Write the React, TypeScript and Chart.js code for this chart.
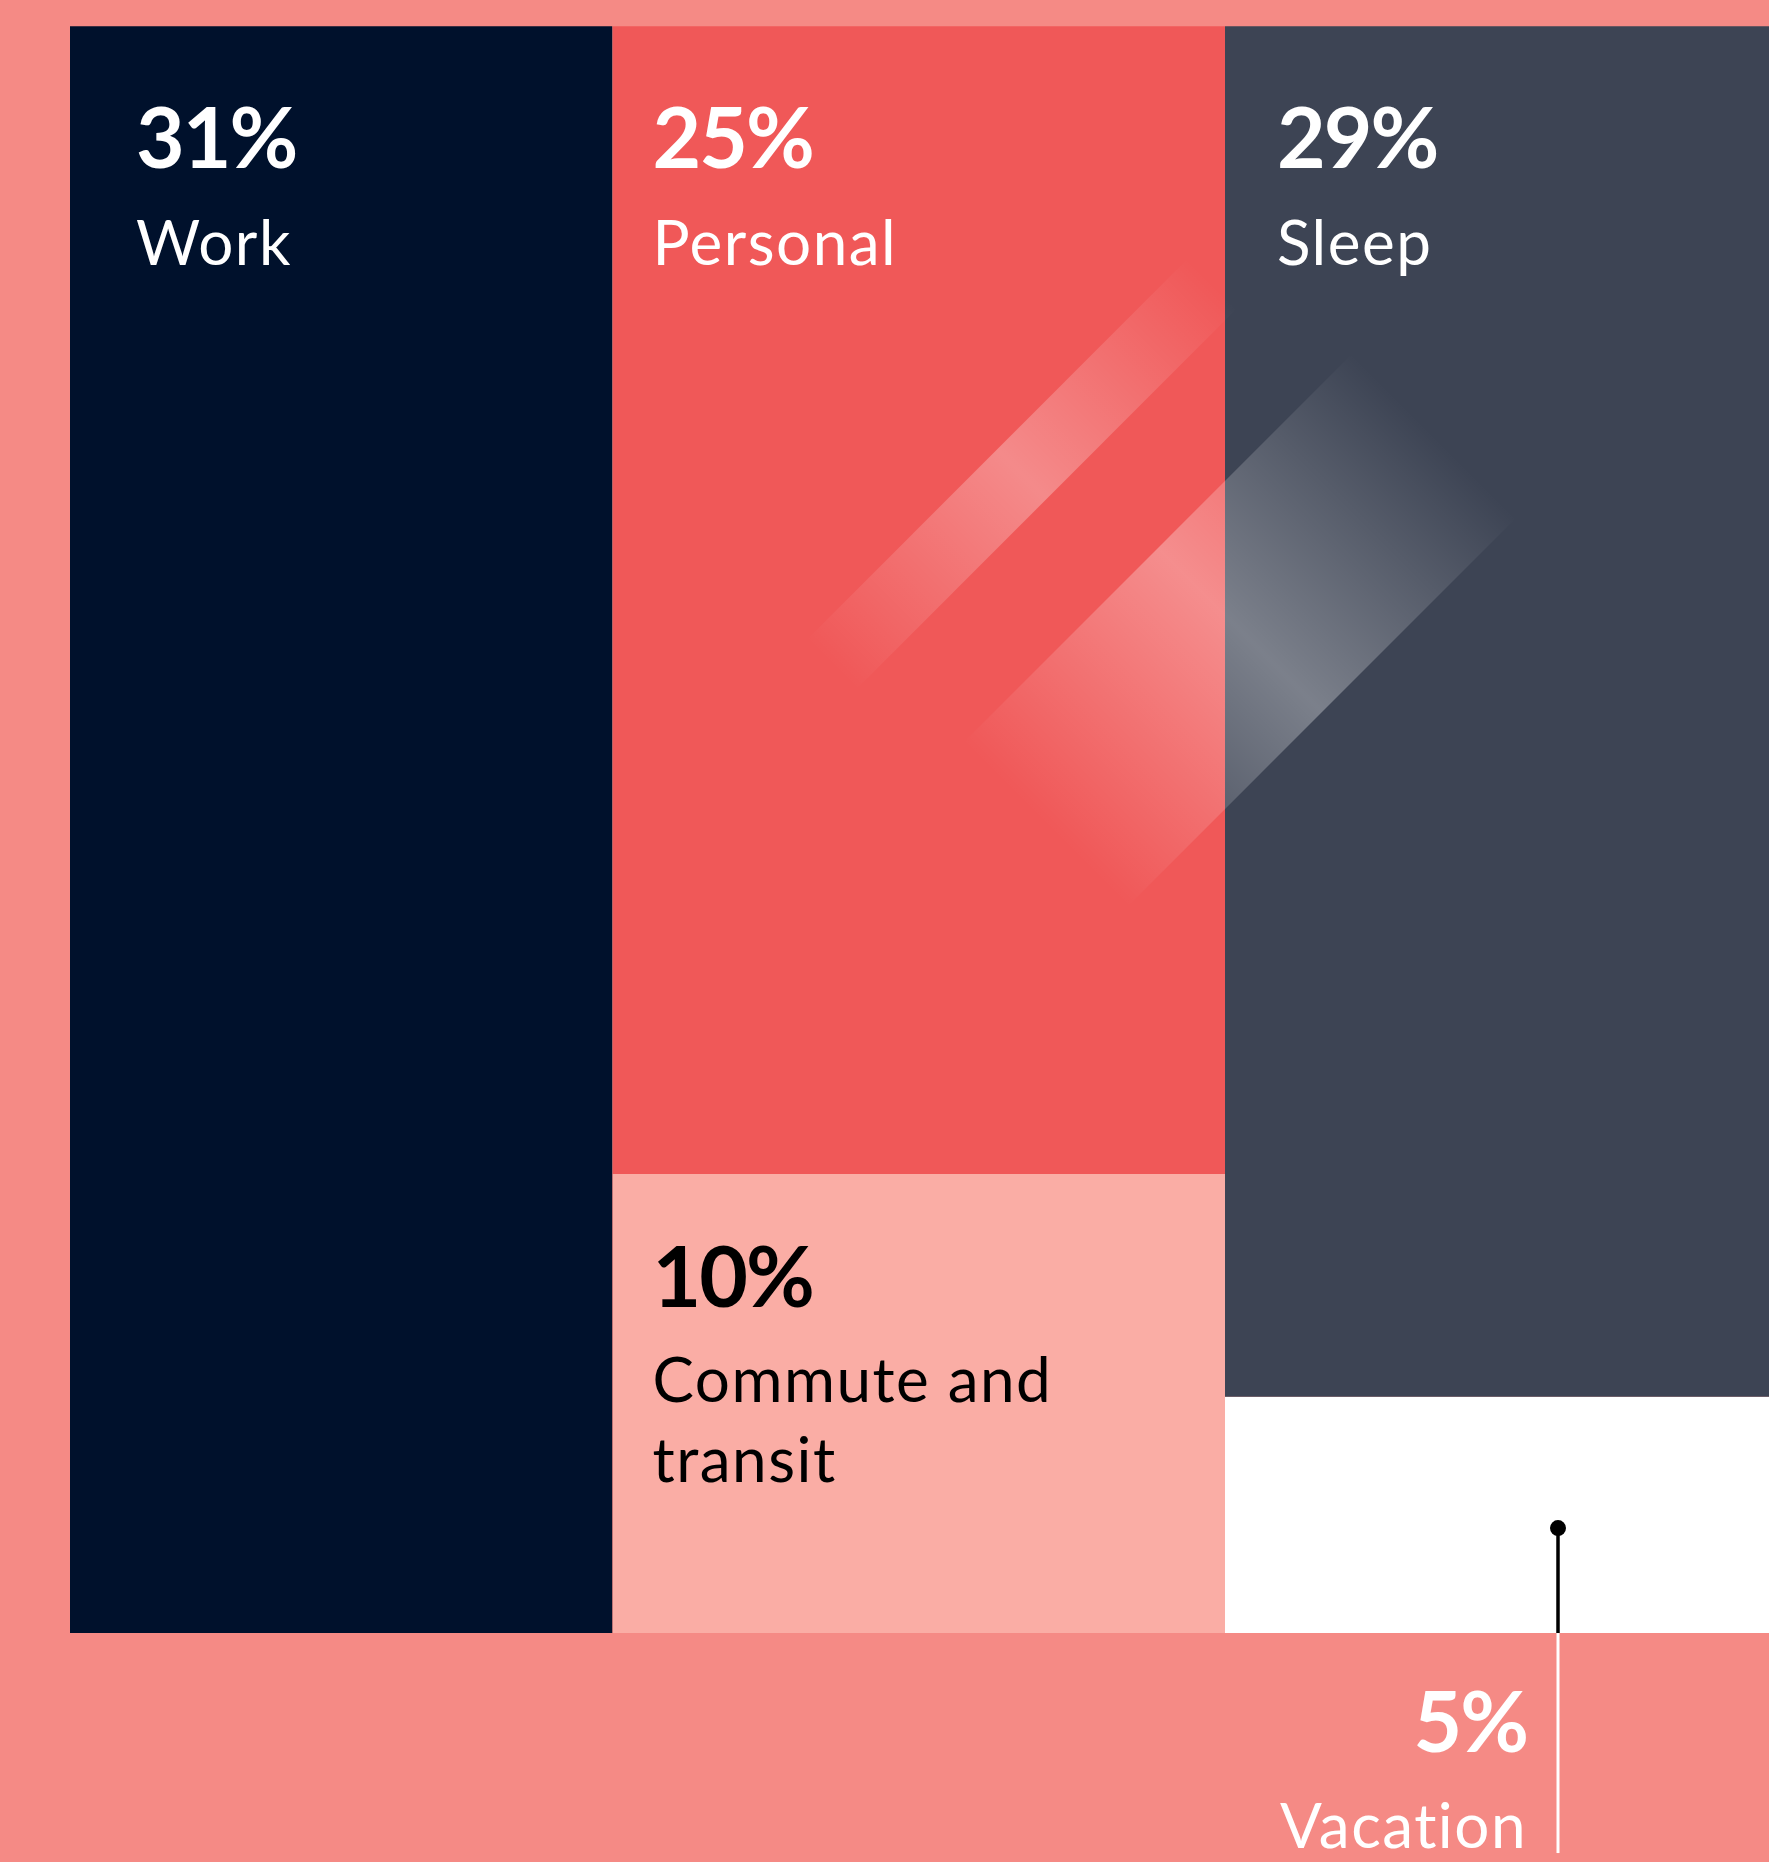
import React, { useEffect, useRef } from 'react';
import { Chart, registerables } from 'chart.js';

Chart.register(...registerables);

// ---- data ----
const categories = ['Work', 'Personal', 'Commute and transit', 'Sleep', 'Vacation'];
const shares = [31, 25, 10, 29, 5];
const columnOf = [0, 1, 1, 2, 2];
const labelLines = [['Work'], ['Personal'], ['Commute and', 'transit'], ['Sleep'], ['Vacation']];

// ---- styles ----
const BG = '#F58A85';
const segmentColors = ['#00112C', '#F05858', '#FAADA5', '#3D4454', '#FFFFFF'];
const textColors = ['#FFFFFF', '#FFFFFF', '#000000', '#FFFFFF', '#FFFFFF'];
const PCT_FONT = 'bold 84px Lato';
const PCT_SPACING = '-2px';
const LABEL_FONT = '400 62px Lato';
const LABEL_SPACING = '1.5px';

export default function App() {
  const ref = useRef<HTMLCanvasElement>(null);

  useEffect(() => {
    document.body.style.margin = '0';
    document.body.style.overflow = 'hidden';
    const canvas = ref.current!;

    const colTotals = [0, 0, 0];
    shares.forEach((v, i) => (colTotals[columnOf[i]] += v));
    const colStart = colTotals.map((_, c) => colTotals.slice(0, c).reduce((a, b) => a + b, 0));
    const used = [0, 0, 0];
    const rects = shares.map((v, i) => {
      const c = columnOf[i];
      const x0 = colStart[c];
      const x1 = x0 + colTotals[c];
      const yTop = 100 - (used[c] / colTotals[c]) * 100;
      used[c] += v;
      const yBottom = 100 - (used[c] / colTotals[c]) * 100;
      return { x0, x1, yTop, yBottom };
    });

    const bgPlugin = {
      id: 'bg',
      beforeDraw(chart: any) {
        const { ctx, width, height } = chart;
        ctx.save();
        ctx.fillStyle = BG;
        ctx.fillRect(0, 0, width, height);
        ctx.restore();
      },
    };

    const streak = (ctx: CanvasRenderingContext2D, cx: number, cy: number, len: number, w: number, peak: number) => {
      ctx.save();
      ctx.translate(cx, cy);
      ctx.rotate(-Math.PI / 4);
      const g = ctx.createLinearGradient(-len / 2, 0, len / 2, 0);
      g.addColorStop(0, 'rgba(255,255,255,0)');
      g.addColorStop(0.5, `rgba(255,255,255,${peak})`);
      g.addColorStop(1, 'rgba(255,255,255,0)');
      ctx.fillStyle = g;
      ctx.fillRect(-len / 2, -w / 2, len, w);
      ctx.restore();
    };

    const streakPlugin = {
      id: 'streaks',
      afterDatasetsDraw(chart: any) {
        const ctx = chart.ctx as CanvasRenderingContext2D;
        streak(ctx, 1022, 474, 540, 70, 0.3);
        streak(ctx, 1240, 630, 550, 232, 0.32);
      },
    };

    const layout = [
      { dx: 66, anchor: 'top', pctDy: 142, lineDy: [239] },
      { dx: 40, anchor: 'top', pctDy: 142, lineDy: [239] },
      { dx: 40, anchor: 'bottom', pctDy: -326, lineDy: [-231, -151] },
      { dx: 52, anchor: 'top', pctDy: 142, lineDy: [239] },
      { dx: 302, anchor: 'outside', pctDy: 119, lineDy: [215] },
    ];

    const labelPlugin = {
      id: 'labels',
      afterDraw(chart: any) {
        const ctx = chart.ctx as any;
        const xs = chart.scales.x;
        const ys = chart.scales.y;
        rects.forEach((r, i) => {
          const L = layout[i];
          const left = xs.getPixelForValue(r.x0);
          const top = ys.getPixelForValue(r.yTop);
          const bottom = ys.getPixelForValue(r.yBottom);
          const ref = L.anchor === 'top' ? top : bottom;
          ctx.save();
          ctx.fillStyle = textColors[i];
          ctx.textBaseline = 'alphabetic';
          ctx.textAlign = L.anchor === 'outside' ? 'right' : 'left';
          const x = left + L.dx;
          ctx.font = PCT_FONT;
          ctx.letterSpacing = PCT_SPACING;
          ctx.fillText(`${shares[i]}%`, x, ref + L.pctDy);
          ctx.font = LABEL_FONT;
          ctx.letterSpacing = LABEL_SPACING;
          labelLines[i].forEach((t, k) => ctx.fillText(t, x, ref + L.lineDy[k]));
          ctx.restore();
          if (L.anchor === 'outside') {
            const dotX = left + 333;
            const dotY = bottom - 105;
            ctx.save();
            ctx.lineWidth = 3.5;
            ctx.strokeStyle = '#000000';
            ctx.beginPath();
            ctx.moveTo(dotX, dotY);
            ctx.lineTo(dotX, bottom);
            ctx.stroke();
            ctx.strokeStyle = '#FFFFFF';
            ctx.lineWidth = 3;
            ctx.beginPath();
            ctx.moveTo(dotX, bottom);
            ctx.lineTo(dotX, bottom + 220);
            ctx.stroke();
            ctx.fillStyle = '#000000';
            ctx.beginPath();
            ctx.arc(dotX, dotY, 8, 0, Math.PI * 2);
            ctx.fill();
            ctx.restore();
          }
        });
      },
    };

    const chart = new Chart(canvas, {
      type: 'line',
      data: {
        datasets: rects.map((r, i) => ({
          label: categories[i],
          data: [
            { x: r.x0, y: r.yTop },
            { x: r.x1, y: r.yTop },
          ],
          fill: { value: r.yBottom },
          backgroundColor: segmentColors[i],
          borderColor: segmentColors[i],
          borderWidth: 0,
          pointRadius: 0,
          pointHoverRadius: 0,
          tension: 0,
        })),
      },
      options: {
        animation: false,
        responsive: false,
        events: [],
        layout: { padding: 0 },
        plugins: {
          legend: { display: false },
          tooltip: { enabled: false },
          title: { display: false },
        },
        scales: {
          x: { type: 'linear', min: -4, max: -4 + 1769 / 17.5, display: false },
          y: { min: -14.25, max: 101.64, display: false },
        },
      },
      plugins: [bgPlugin, streakPlugin, labelPlugin],
    } as any);

    return () => chart.destroy();
  }, []);

  return <canvas ref={ref} width={1769} height={1862} style={{ display: 'block' }} />;
}
